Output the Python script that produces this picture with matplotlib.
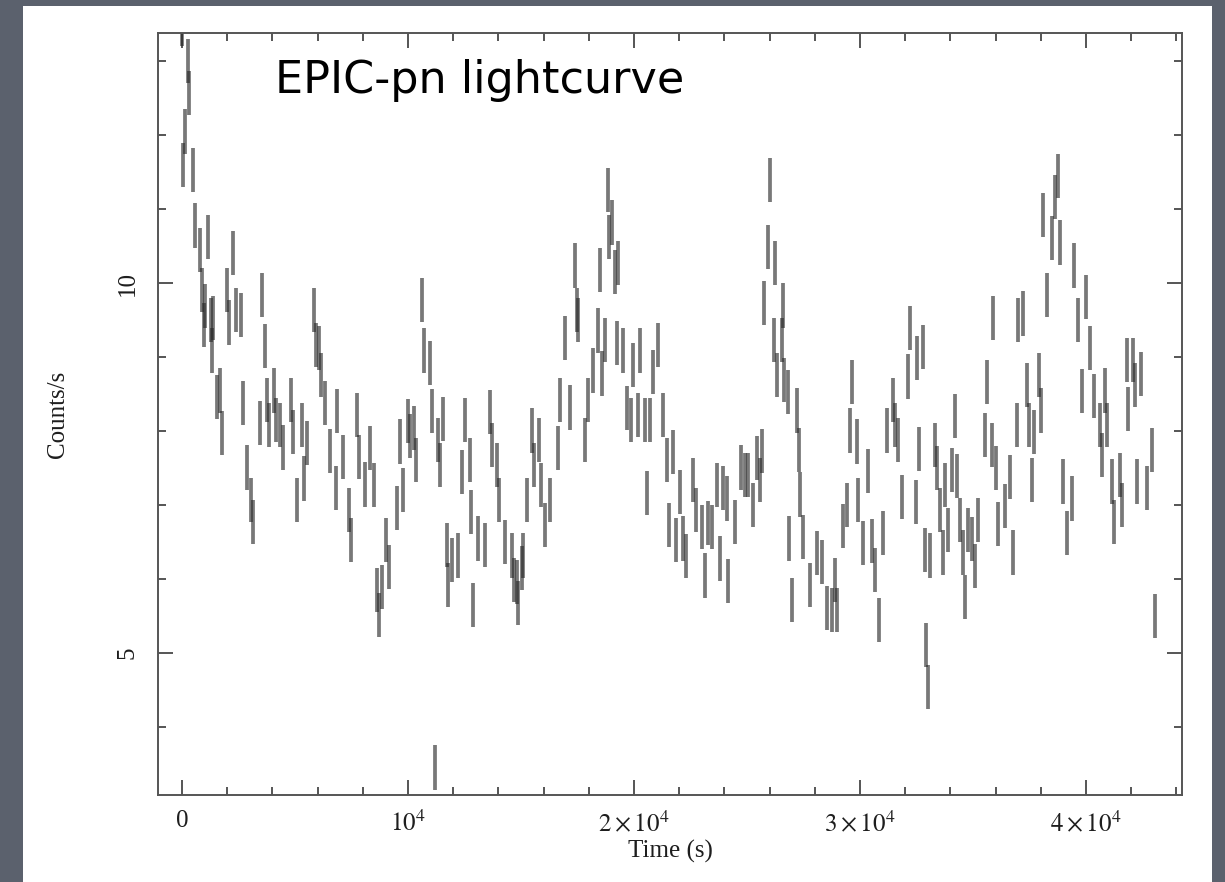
import numpy as np
import matplotlib
matplotlib.use('Agg')
import matplotlib.pyplot as plt
from matplotlib.patches import Rectangle
from matplotlib.ticker import MultipleLocator

plt.rcParams['font.family'] = ['Liberation Serif', 'DejaVu Serif']
plt.rcParams['mathtext.fontset'] = 'stix'

# EPIC-pn light curve: bin time (s) and count rate (counts/s)
time_s = [
    0, 60, 133, 266, 330, 487, 575, 797, 885, 974, 1018, 1150, 1283, 1328, 1372,
    1549, 1682, 1770, 1991, 2080, 2257, 2390, 2611, 2699, 2876, 3053, 3142, 3452,
    3540, 3673, 3761, 3850, 4071, 4160, 4337, 4469, 4823, 4912, 5089, 5310, 5399,
    5531, 5841, 5930, 6062, 6151, 6328, 6549, 6815, 6859, 7124, 7390, 7478, 7744,
    7832, 8098, 8319, 8496, 8629, 8717, 8850, 9027, 9160, 9514, 9647, 9779, 10001,
    10089, 10266, 10355, 10620, 10709, 10974, 11063, 11195, 11328, 11417, 11549,
    11726, 11771, 11948, 12213, 12390, 12523, 12744, 12788, 12877, 13098, 13408,
    13629, 13718, 13939, 14030, 14300, 14603, 14691, 14824, 14868, 15045, 15089,
    15266, 15488, 15576, 15797, 15886, 16063, 16284, 16638, 16727, 16948, 17169,
    17390, 17479, 17523, 17833, 17966, 18187, 18408, 18497, 18585, 18718, 18851,
    18895, 19028, 19160, 19249, 19293, 19514, 19691, 19868, 19957, 20178, 20267,
    20488, 20576, 20709, 20842, 21063, 21284, 21461, 21550, 21727, 21860, 22037,
    22169, 22302, 22612, 22745, 23010, 23143, 23276, 23453, 23674, 23807, 23940,
    24116, 24161, 24471, 24736, 24913, 25046, 25267, 25444, 25577, 25665, 25754,
    25931, 26019, 26196, 26240, 26329, 26550, 26594, 26639, 26816, 26860, 26993,
    27214, 27302, 27347, 27479, 27789, 28099, 28320, 28541, 28763, 28895, 28984,
    29249, 29426, 29559, 29648, 29869, 29913, 30134, 30356, 30533, 30665, 30842,
    31019, 31196, 31462, 31550, 31683, 31860, 32126, 32214, 32480, 32524, 32612,
    32789, 32878, 32922, 33011, 33099, 33320, 33409, 33541, 33674, 33763, 33896,
    34073, 34205, 34294, 34427, 34559, 34648, 34781, 34958, 35090, 35223, 35533,
    35621, 35843, 35887, 36020, 36108, 36418, 36639, 36772, 36949, 36993, 37214,
    37391, 37480, 37613, 37701, 37922, 38011, 38099, 38276, 38498, 38630, 38763,
    38852, 38984, 39161, 39383, 39471, 39648, 39825, 40002, 40179, 40356, 40622,
    40710, 40843, 40931, 41153, 41241, 41507, 41595, 41816, 41861, 42082, 42170,
    42259, 42436, 42701, 42923, 43055,
]
rate = [
    13.5, 11.6, 12.05, 13.0, 12.57, 11.53, 10.78, 10.45, 9.91, 9.43, 9.69, 10.62, 9.5, 9.09, 9.53,
    8.46, 8.55, 7.97, 9.91, 9.47, 10.41, 9.64, 9.57, 8.38, 7.51, 7.07, 6.77, 8.11,
    9.84, 9.15, 8.42, 8.08, 8.55, 8.15, 8.08, 7.78, 8.42, 7.99, 7.07, 8.08, 7.36,
    7.84, 9.64, 9.16, 9.12, 8.76, 8.38, 7.73, 7.23, 8.27, 7.65, 6.93, 6.53, 8.22,
    7.65, 7.28, 7.77, 7.27, 5.85, 5.51, 5.89, 6.53, 6.16, 6.96, 7.86, 7.2, 8.14,
    7.93, 8.04, 7.61, 9.77, 9.09, 8.92, 8.27, 3.45, 7.88, 7.54, 8.16,
    6.46, 5.92, 6.26, 6.32, 7.45, 8.15, 7.61, 6.91, 5.65, 6.55, 6.46,
    8.26, 7.81, 7.54, 7.07, 6.5, 6.32, 5.99, 5.96, 5.68, 6.15, 6.32,
    7.07, 8.01, 7.54, 7.88, 7.27, 6.73, 7.07, 7.77, 8.42, 9.26, 8.32,
    10.24, 9.64, 9.5, 7.88, 8.42, 8.82, 9.36, 10.18, 8.78, 9.23, 11.26,
    10.62, 10.82, 10.15, 9.19, 10.27, 9.09, 8.31, 8.15, 8.89, 8.22, 9.09,
    8.15, 7.16, 8.15, 8.8, 9.16, 8.22, 7.61, 6.73, 7.72, 6.53, 7.18,
    6.55, 6.31, 7.34, 6.93, 6.7, 6.05, 6.76, 6.7, 7.27, 6.28, 7.23,
    7.09, 5.97, 6.77, 7.51, 7.41, 7.41, 7.0, 7.64, 7.34, 7.73, 9.73,
    10.49, 11.39, 9.23, 10.27, 8.76, 9.23, 9.7, 8.69, 8.53, 6.55, 5.72,
    8.28, 7.74, 7.14, 6.57, 5.92, 6.35, 6.23, 5.61, 5.58, 5.99, 5.58,
    6.72, 7.0, 8.01, 8.66, 7.86, 7.07, 6.49, 7.46, 6.51, 6.12, 5.45,
    6.62, 8.01, 8.42, 8.08, 7.88, 7.11, 8.74, 9.39, 7.04, 8.99, 7.76,
    9.14, 6.39, 5.11, 4.54, 6.32, 7.81, 7.5, 6.93, 6.36, 7.27, 6.66,
    7.47, 8.2, 7.39, 6.8, 6.36, 5.76, 6.66, 6.54, 6.18, 6.8, 7.95,
    8.66, 7.81, 9.53, 7.5, 6.74, 6.99, 7.38, 6.36, 8.08, 9.5, 9.59,
    8.62, 8.08, 7.34, 7.99, 8.76, 8.28, 10.92, 9.84, 10.61, 11.16, 11.45,
    10.55, 7.32, 6.62, 7.09, 10.24, 9.5, 8.54, 9.81, 9.12, 8.47, 8.08,
    7.68, 8.55, 8.08, 7.32, 6.77, 7.41, 7.0, 8.96, 8.3, 8.96, 8.62,
    7.32, 8.77, 7.23, 7.74, 5.5,
]
rate_err = 0.3

x_ticks = [0, 10000, 20000, 30000, 40000]
x_ticklabels = ['0', r'$10^4$', r'$2\times10^4$', r'$3\times10^4$', r'$4\times10^4$']
y_ticks = [5, 10]

time_s = np.array(time_s, dtype=float)
rate = np.array(rate, dtype=float)

fig = plt.figure(figsize=(12.25, 8.82), dpi=100)
fig.patch.set_facecolor('#5b616d')
# white slide panel behind the plot
fig.add_artist(Rectangle((0.0188, 0.0), 0.9706, 0.9932, transform=fig.transFigure,
                         facecolor='white', edgecolor='none', zorder=-10))

ax = fig.add_axes([0.129, 0.0986, 0.8359, 0.8639])
ax.set_facecolor('white')
ax.vlines(time_s, rate - rate_err, rate + rate_err, colors='#262626',
          linewidth=2.7, alpha=0.62)

ax.set_xlim(-1060, 44250)
ax.set_ylim(3.08, 13.38)

ax.set_xticks(x_ticks)
ax.set_xticklabels(x_ticklabels)
ax.xaxis.set_minor_locator(MultipleLocator(2000))
ax.set_yticks(y_ticks)
ax.set_yticklabels([str(v) for v in y_ticks], rotation=90, va='center')
ax.yaxis.set_minor_locator(MultipleLocator(1))

ax.tick_params(which='both', direction='in', top=True, right=True, color='#555555',
               width=1.4, labelsize=18, labelcolor='#1e1e1e')
ax.tick_params(which='major', length=11)
ax.tick_params(which='minor', length=6)
ax.tick_params(axis='x', pad=11)
ax.tick_params(axis='y', pad=14)
for sp in ax.spines.values():
    sp.set_color('#555555')
    sp.set_linewidth(1.4)

ax.set_xlabel('Time (s)', fontsize=18, color='#1e1e1e', labelpad=3)
ax.set_ylabel('Counts/s', fontsize=18, color='#1e1e1e', labelpad=34)

ax.text(0.114, 0.938, 'EPIC-pn lightcurve', transform=ax.transAxes,
        fontsize=32, family='DejaVu Sans', va='center', ha='left', color='black')

fig.savefig('out.png', dpi=100, facecolor=fig.get_facecolor())
